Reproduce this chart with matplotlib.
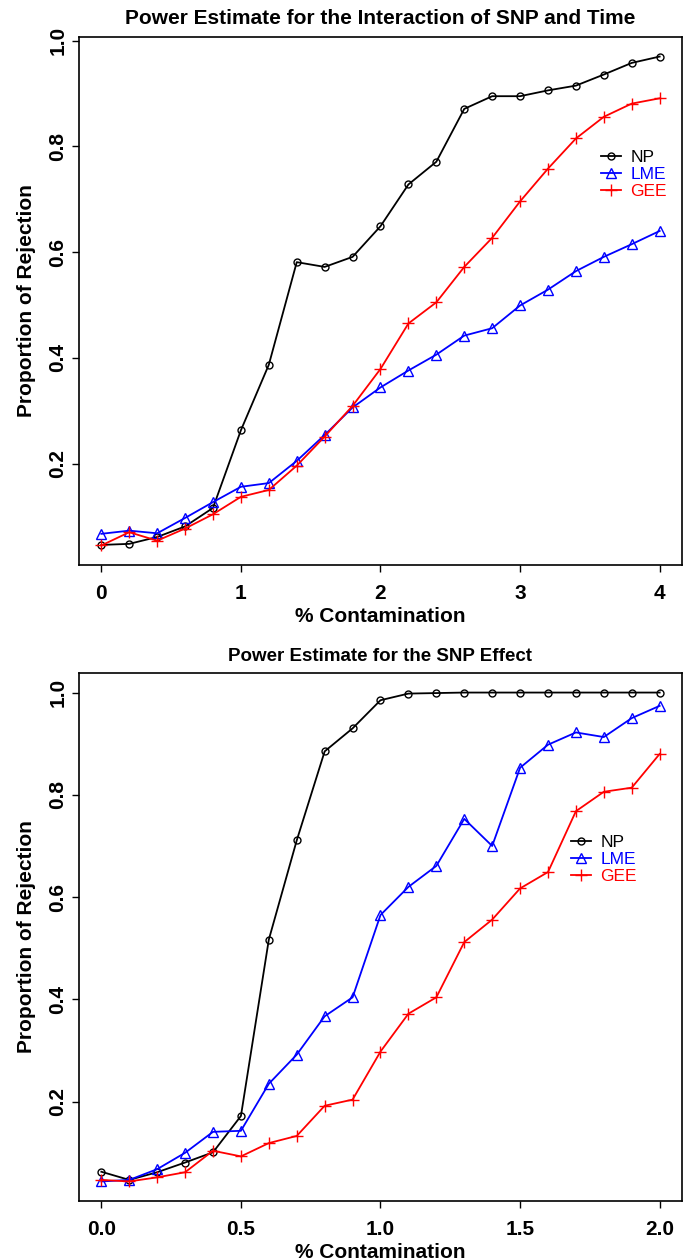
import matplotlib
matplotlib.use("Agg")
import matplotlib.pyplot as plt
import numpy as np

plt.rcParams["font.family"] = ["Liberation Sans", "DejaVu Sans"]

#%%  Data
x_top = [0.0, 0.2, 0.4, 0.6, 0.8, 1.0, 1.2, 1.4, 1.6, 1.8, 2.0,
         2.2, 2.4, 2.6, 2.8, 3.0, 3.2, 3.4, 3.6, 3.8, 4.0]
np_top  = [0.046, 0.048, 0.061, 0.081, 0.116, 0.263, 0.387, 0.581, 0.572, 0.591, 0.649,
           0.728, 0.771, 0.871, 0.895, 0.895, 0.906, 0.915, 0.936, 0.958, 0.970]
lme_top = [0.067, 0.073, 0.068, 0.097, 0.127, 0.156, 0.163, 0.205, 0.254, 0.306, 0.344,
           0.376, 0.406, 0.442, 0.456, 0.499, 0.529, 0.564, 0.591, 0.615, 0.640]
gee_top = [0.045, 0.070, 0.054, 0.077, 0.104, 0.137, 0.150, 0.196, 0.251, 0.309, 0.379,
           0.465, 0.505, 0.572, 0.627, 0.696, 0.758, 0.815, 0.856, 0.881, 0.891]

x_bot = [0.0, 0.1, 0.2, 0.3, 0.4, 0.5, 0.6, 0.7, 0.8, 0.9, 1.0,
         1.1, 1.2, 1.3, 1.4, 1.5, 1.6, 1.7, 1.8, 1.9, 2.0]
np_bot  = [0.063, 0.047, 0.062, 0.081, 0.101, 0.172, 0.517, 0.711, 0.885, 0.930, 0.985,
           0.998, 0.999, 1.000, 1.000, 1.000, 1.000, 1.000, 1.000, 1.000, 1.000]
lme_bot = [0.044, 0.047, 0.068, 0.100, 0.141, 0.143, 0.235, 0.292, 0.367, 0.404, 0.565,
           0.620, 0.661, 0.753, 0.700, 0.853, 0.898, 0.922, 0.913, 0.950, 0.974]
gee_bot = [0.047, 0.044, 0.052, 0.062, 0.104, 0.093, 0.119, 0.133, 0.192, 0.204, 0.298,
           0.372, 0.404, 0.512, 0.556, 0.617, 0.649, 0.768, 0.806, 0.814, 0.880]

methods = ["NP", "LME", "GEE"]
colors  = ["black", "blue", "red"]
markers = ["o", "^", "+"]
msizes  = [5, 6.5, 8]

titles = ["Power Estimate for the Interaction of SNP and Time",
          "Power Estimate for the SNP Effect"]
xticks_top = [0, 1, 2, 3, 4]
xticks_bot = [0.0, 0.5, 1.0, 1.5, 2.0]
yticks = [0.2, 0.4, 0.6, 0.8, 1.0]


#%%  Plotting
W, H = 687, 1260
fig = plt.figure(figsize=(W/100, H/100), dpi=100)

def px_axes(l, t, r, b):
    return fig.add_axes([l/W, 1-b/H, (r-l)/W, (b-t)/H])

ax_top = px_axes(79, 37, 682, 565)
ax_bot = px_axes(79, 673, 682, 1201)

panels = [(ax_top, x_top, [np_top, lme_top, gee_top], xticks_top, ['0', '1', '2', '3', '4']),
          (ax_bot, x_bot, [np_bot, lme_bot, gee_bot], xticks_bot, ['0.0', '0.5', '1.0', '1.5', '2.0'])]
title_sizes = [15, 13.5]
# legend upper-left corners, in pixels
leg_pos = [(601, 150), (571, 835)]

for k, (ax, xs, series, xt, xtl) in enumerate(panels):
    for y, name, c, m, ms in zip(series, methods, colors, markers, msizes):
        ax.plot(xs, y, color=c, lw=1.3, marker=m, ms=ms, mfc='none', mec=c, mew=1.0, label=name)

    # R-style 4% padding on both axes
    allv = np.concatenate(series)
    xr = max(xs) - min(xs)
    yr = allv.max() - allv.min()
    ax.set_xlim(min(xs) - 0.04*xr, max(xs) + 0.04*xr)
    ax.set_ylim(allv.min() - 0.04*yr, allv.max() + 0.04*yr)

    ax.set_xticks(xt)
    ax.set_xticklabels(xtl, fontsize=15, fontweight='bold')
    ax.set_yticks(yticks)
    ax.set_yticklabels([f"{v:.1f}" for v in yticks], fontsize=15, fontweight='bold',
                       rotation=90, va='center')
    ax.tick_params(direction='out', length=5, width=1)
    ax.tick_params(axis='x', pad=8.5)
    ax.tick_params(axis='y', pad=3.2)
    for s in ax.spines.values():
        s.set_linewidth(1.2)

    ax.set_xlabel('% Contamination', fontsize=15, fontweight='bold', labelpad=3)
    ax.set_ylabel('Proportion of Rejection', fontsize=15, fontweight='bold', labelpad=9)
    ax.set_title(titles[k], fontsize=title_sizes[k], fontweight='bold', pad=9)

    lx, ly = leg_pos[k]
    leg = ax.legend(frameon=False, fontsize=12.5, handlelength=1.15, handletextpad=0.55,
                    labelspacing=0.1, borderpad=0, borderaxespad=0,
                    loc='upper left', bbox_to_anchor=(lx/W, 1-ly/H),
                    bbox_transform=fig.transFigure)
    for txt, c in zip(leg.get_texts(), colors):
        txt.set_color(c)

plt.savefig('out.png', dpi=100)
